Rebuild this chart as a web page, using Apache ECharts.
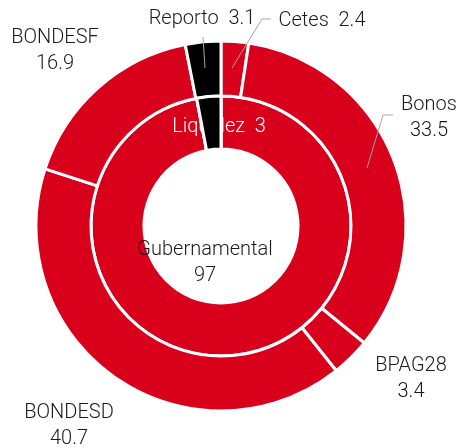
<!DOCTYPE html>
<html>
<head>
<meta charset="utf-8">
<script src="https://cdn.jsdelivr.net/npm/echarts@6/dist/echarts.min.js"></script>
<style>
  html, body { margin: 0; padding: 0; background: #fff; }
  #main { width: 456px; height: 448px; }
</style>
</head>
<body>
<div id="main"></div>
<script>
// inner ring
const innerNames = ['Gubernamental', 'Liquidez']
const innerValues = [97, 3]
// outer ring
const outerNames = ['Cetes', 'Bonos', 'BPAG28', 'BONDESD', 'BONDESF', 'Reporto']
const outerValues = [2.4, 33.5, 3.4, 40.7, 16.9, 3.1]

const RED = '#d8001a'
const BLACK = '#000000'
const TEXT = '#1a1a1a'
const FONT = 'Roboto'
const CENTER = [221, 226]

// label placement (layout only)
const innerLabelPos = [
  { x: 205, y: 263, color: TEXT },
  { x: 219, y: 127, color: '#ffffff', inline: true }
]
const outerLabelPos = [
  { x: 322, y: 21, inline: true, line: [[232, 68], [262, 19], [271, 19]] },
  { x: 429, y: 118, line: [[367, 168], [383, 115], [393, 115]] },
  { x: 411, y: 379 },
  { x: 69, y: 426 },
  { x: 55, y: 51 },
  { x: 202, y: 19, inline: true, line: [[205, 68], [203, 37], [203, 37]] }
]
const innerColors = [RED, BLACK]
const outerColors = [RED, RED, RED, RED, RED, BLACK]

function labelText(pos) {
  return p => pos[p.dataIndex].inline ? p.name + '  ' + p.value : p.name + '\n' + p.value
}

function placeLabel(pos) {
  return params => {
    const p = pos[params.dataIndex]
    return {
      x: p.x,
      y: p.y,
      align: 'center',
      verticalAlign: 'middle',
      labelLinePoints: p.line
    }
  }
}

const baseLabel = {
  show: true,
  fontFamily: FONT,
  fontWeight: 300,
  fontSize: 20,
  lineHeight: 26,
  color: TEXT
}

const ring = (radius, z) => ({
  type: 'pie',
  z: z,
  center: CENTER,
  radius: radius,
  startAngle: 90,
  avoidLabelOverlap: false,
  emphasis: { disabled: true },
  itemStyle: { borderColor: '#fff', borderWidth: 3 }
})

const chart = echarts.init(document.getElementById('main'), null, { renderer: 'canvas' })
chart.setOption({
  animation: false,
  series: [
    Object.assign(ring([77, 130], 2), {
      label: Object.assign({}, baseLabel, { position: 'inside', formatter: labelText(innerLabelPos) }),
      labelLine: { show: false },
      labelLayout: placeLabel(innerLabelPos),
      data: innerNames.map((n, i) => ({
        name: n,
        value: innerValues[i],
        itemStyle: { color: innerColors[i] },
        label: { color: innerLabelPos[i].color }
      }))
    }),
    Object.assign(ring([130, 185], 2), {
      label: { show: false },
      labelLine: { show: false },
      data: outerNames.map((n, i) => ({
        name: n,
        value: outerValues[i],
        itemStyle: { color: outerColors[i] }
      }))
    }),
    // black liquidity slice redrawn on top so it covers its own label, as in the source
    Object.assign(ring([77, 130], 3), {
      silent: true,
      label: { show: false },
      labelLine: { show: false },
      data: innerNames.map((n, i) => ({
        name: n,
        value: innerValues[i],
        itemStyle: innerColors[i] === BLACK ? { color: BLACK } : { color: 'transparent', borderWidth: 0 }
      }))
    }),
    // outer labels and leader lines, kept above the sectors
    Object.assign(ring([130, 185], 4), {
      silent: true,
      itemStyle: { color: 'transparent', borderWidth: 0 },
      label: Object.assign({}, baseLabel, { position: 'outside', formatter: labelText(outerLabelPos) }),
      labelLine: { show: true, lineStyle: { color: '#a6a6a6', width: 1 } },
      labelLayout: placeLabel(outerLabelPos),
      data: outerNames.map((n, i) => ({
        name: n,
        value: outerValues[i],
        labelLine: { show: !!outerLabelPos[i].line }
      }))
    })
  ]
})
</script>
</body>
</html>
